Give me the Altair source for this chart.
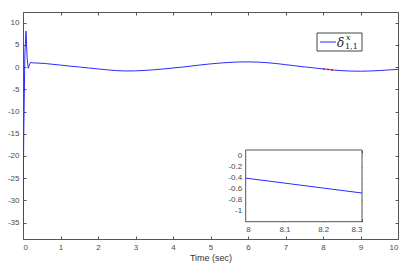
import altair as alt
import pandas as pd

# ---- data ----
time_s = [0.0, 0.02, 0.05, 0.08, 0.11, 0.14, 0.17, 0.20, 0.25, 0.4, 0.6, 0.8, 1.0,
          1.25, 1.5, 1.75, 2.0, 2.25, 2.5, 2.75, 3.0, 3.25, 3.5, 3.75, 4.0, 4.25,
          4.5, 4.75, 5.0, 5.25, 5.5, 5.75, 6.0, 6.25, 6.5, 6.75, 7.0, 7.25, 7.5,
          7.75, 8.0, 8.1, 8.2, 8.3, 8.5, 8.75, 9.0, 9.25, 9.5, 9.75, 10.0]
delta_11 = [-35, -15, 3, 8.1, 2, -0.3, 0.5, 1.05, 0.95, 0.9, 0.8, 0.62, 0.45,
            0.22, 0.02, -0.2, -0.42, -0.62, -0.8, -0.88, -0.85, -0.75, -0.6, -0.42, -0.2, 0.0,
            0.25, 0.5, 0.72, 0.9, 1.05, 1.15, 1.17, 1.12, 1.0, 0.8, 0.55, 0.3, 0.05,
            -0.18, -0.41, -0.5, -0.59, -0.68, -0.8, -0.9, -0.93, -0.88, -0.78, -0.65, -0.5]

main_x_ticks = [0, 1, 2, 3, 4, 5, 6, 7, 8, 9, 10]
main_y_ticks = [-35, -30, -25, -20, -15, -10, -5, 0, 5, 10]
main_x_domain = [0, 10]
main_y_domain = [-38.7, 12.4]

inset_x_ticks = [8, 8.1, 8.2, 8.3]
inset_y_ticks = [0, -0.2, -0.4, -0.6, -0.8, -1]
inset_x_domain = [8, 8.3]
inset_y_domain = [-1.2, 0.1]

# ---- layout (pixels) ----
W, H = 375, 227
IX = [222.7, 339]     # inset left/right inside plot
IY = [209.7, 138]     # inset bottom/top inside plot

BLUE = "#2a2aff"
GREY = "#555555"
LBL = "#4a4a4a"
FONT = "Liberation Sans"

df = pd.DataFrame({"t": time_s, "v": delta_11})
zoom = pd.DataFrame({"x1": [inset_x_domain[0]], "x2": [inset_x_domain[1]],
                     "y1": [inset_y_domain[0]], "y2": [inset_y_domain[1]]})
one = pd.DataFrame({"a": [0]})
in_zoom = (alt.datum.t >= inset_x_domain[0]) & (alt.datum.t <= inset_x_domain[1])


def lab_axis(orient, values, fmt, offset=0, title=None):
    kw = dict(orient=orient, values=values, format=fmt,
              labelExpr="replace(datum.label, '\u2212', '-')",
              tickSize=0, ticks=False, labelPadding=4, offset=offset, domain=False,
              grid=False, labelFont=FONT, labelFontSize=8, labelColor=LBL,
              title=title)
    if title:
        kw.update(titleFont=FONT, titleFontSize=9, titleFontWeight="normal",
                  titleColor="#333333", titlePadding=2)
    return alt.Axis(**kw)


def tick_axis(orient, values, offset):
    return alt.Axis(orient=orient, values=values, labels=False, ticks=True,
                    tickSize=3, tickColor=GREY, offset=offset, domain=False,
                    grid=False, title=None)


def mx(field, axis):
    return alt.X(field, scale=alt.Scale(domain=main_x_domain, nice=False, zero=False), axis=axis)


def my(field, axis):
    return alt.Y(field, scale=alt.Scale(domain=main_y_domain, nice=False, zero=False), axis=axis)


def ix(field, axis):
    return alt.X(field, scale=alt.Scale(domain=inset_x_domain, range=IX, nice=False, zero=False), axis=axis)


def iy(field, axis):
    return alt.Y(field, scale=alt.Scale(domain=inset_y_domain, range=IY, nice=False, zero=False), axis=axis)


main_line = alt.Chart(df).mark_line(color=BLUE, strokeWidth=1, clip=True).encode(
    x=mx("t:Q", lab_axis("bottom", main_x_ticks, "d", title="Time (sec)")),
    y=my("v:Q", lab_axis("left", main_y_ticks, "d")),
    order="t:Q",
)

zoom_mark = alt.Chart(df).transform_filter(in_zoom).mark_line(
    color="red", strokeWidth=1.4, strokeDash=[2, 2]).encode(
    x=mx("t:Q", tick_axis("top", main_x_ticks, -H)),
    y=my("v:Q", tick_axis("right", main_y_ticks, -W)),
    order="t:Q",
)

main_ticks2 = alt.Chart(df).mark_line(opacity=0).encode(
    x=mx("t:Q", tick_axis("bottom", main_x_ticks, -H)),
    y=my("v:Q", tick_axis("left", main_y_ticks, -W)),
)

inset_bg = alt.Chart(zoom).mark_rect(fill="white", stroke=GREY, strokeWidth=1).encode(
    x=ix("x1:Q", lab_axis("bottom", inset_x_ticks, ".1~f", offset=-(H - IY[0]))),
    x2="x2:Q",
    y=iy("y1:Q", lab_axis("left", inset_y_ticks, ".1~f", offset=-IX[0])),
    y2="y2:Q",
)

inset_line = alt.Chart(df).transform_filter(in_zoom).mark_line(
    color=BLUE, strokeWidth=1).encode(
    x=ix("t:Q", tick_axis("top", inset_x_ticks, -IY[0])),
    y=iy("v:Q", tick_axis("right", inset_y_ticks, -(W - IX[0]))),
    order="t:Q",
)

inset_ticks2 = alt.Chart(zoom).mark_rect(opacity=0).encode(
    x=ix("x1:Q", tick_axis("bottom", inset_x_ticks, -(H - IY[1]))),
    x2="x2:Q",
    y=iy("y1:Q", tick_axis("left", inset_y_ticks, -IX[1])),
    y2="y2:Q",
)

# legend drawn by hand
leg_box = alt.Chart(one).mark_rect(fill="white", stroke="#444444", strokeWidth=1).encode(
    x=alt.value(294), x2=alt.value(339), y=alt.value(21), y2=alt.value(39))
leg_line = alt.Chart(one).mark_rule(color=BLUE, strokeWidth=1).encode(
    x=alt.value(297), x2=alt.value(313), y=alt.value(30))
leg_d = alt.Chart(one).mark_text(text="δ", font="DejaVu Serif", fontStyle="italic",
                                 fontSize=12, align="left", baseline="middle",
                                 color="#222222").encode(x=alt.value(314), y=alt.value(31))
leg_sup = alt.Chart(one).mark_text(text="x", font="DejaVu Serif", fontStyle="italic",
                                   fontSize=8, align="left", baseline="middle",
                                   color="#222222").encode(x=alt.value(323), y=alt.value(26))
leg_sub = alt.Chart(one).mark_text(text="1,1", font="DejaVu Serif",
                                   fontSize=8, align="left", baseline="middle",
                                   color="#222222").encode(x=alt.value(322), y=alt.value(35))

chart = alt.layer(
    main_line, zoom_mark, main_ticks2, inset_bg, inset_line, inset_ticks2,
    leg_box, leg_line, leg_d, leg_sup, leg_sub,
).resolve_scale(x="independent", y="independent").properties(
    width=W, height=H,
    autosize=alt.AutoSizeParams(type="none"),
    padding={"left": 15, "top": 4, "right": 1, "bottom": 25},
    background="white",
).configure_view(stroke=GREY, strokeWidth=1)

chart.save("out.html", embed_options={"renderer": "svg", "actions": False})
